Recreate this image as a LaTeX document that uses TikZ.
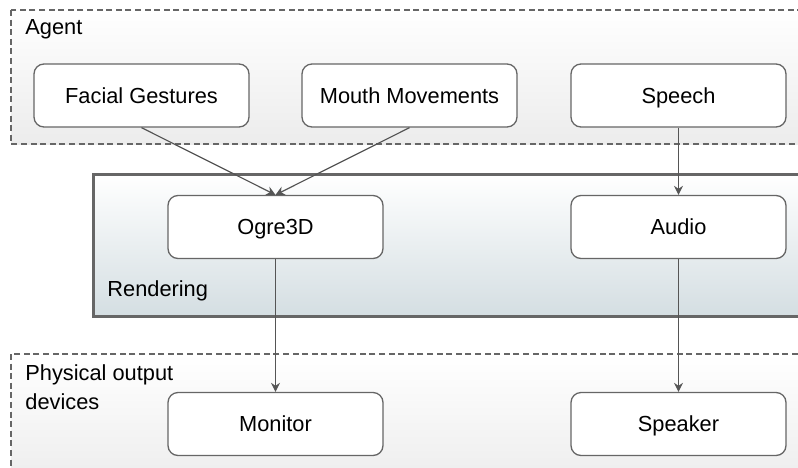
\documentclass[tikz,border=0pt]{standalone}
\usepackage{fontspec}
\setmainfont{Liberation Sans}
\usetikzlibrary{positioning,arrows.meta,calc}
\definecolor{edgegray}{HTML}{666666}
\definecolor{linegray}{HTML}{555555}
\definecolor{layergray}{HTML}{ECECEC}
\definecolor{renderblue}{HTML}{D4DEE2}

\begin{document}
\begin{tikzpicture}[
  x=.5pt,y=-.5pt,>={Stealth[length=4.5pt,width=4.5pt]},
  font=\fontsize{10.9}{14.5}\selectfont,
  module/.style={draw=edgegray,line width=.65pt,rounded corners=5pt,fill=white,
    minimum width=107.5pt,minimum height=31.5pt,inner sep=0pt,
    text height=7.8pt,text depth=0pt},
  outerlayer/.style={draw=edgegray,line width=.6pt,dash pattern=on 3pt off 1.8pt,
    top color=white,bottom color=layergray},
  renderlayer/.style={draw=edgegray,line width=1.5pt,
    top color=white,bottom color=renderblue},
  layername/.style={anchor=west,inner sep=0pt,align=left},
  flow/.style={->,draw=linegray,line width=.6pt}
]
\clip (0,0) rectangle (798,467);
% The three layers run off the right edge of the page.
\draw[outerlayer] (11,10) rectangle (830,144);
\draw[renderlayer] (93,174) rectangle (830,316);
\draw[outerlayer] (11,354) rectangle (830,490);
\node[layername] (agentname) at (25,29) {Agent};
\node[layername] (rendername) at (107,291) {Rendering};
\node[layername] (devicename) at (25,387) {Physical output\\devices};
% agent
\node[module] (facial) at (141.5,95.5) {Facial Gestures};
\node[module] (mouth) at (409.5,95.5) {Mouth Movements};
\node[module] (speech) at (678.5,95.5) {Speech};
% rendering
\node[module] (ogre) at (275.5,227) {Ogre3D};
\node[module] (audio) at (678.5,227) {Audio};
% devices
\node[module] (monitor) at (275.5,424) {Monitor};
\node[module] (speaker) at (678.5,424) {Speaker};
\draw[flow] (facial.south) -- (ogre.north);
\draw[flow] (mouth.south) -- (ogre.north);
\draw[flow] (speech) -- (audio);
\draw[flow] (ogre) -- (monitor);
\draw[flow] (audio) -- (speaker);
\end{tikzpicture}
\end{document}
